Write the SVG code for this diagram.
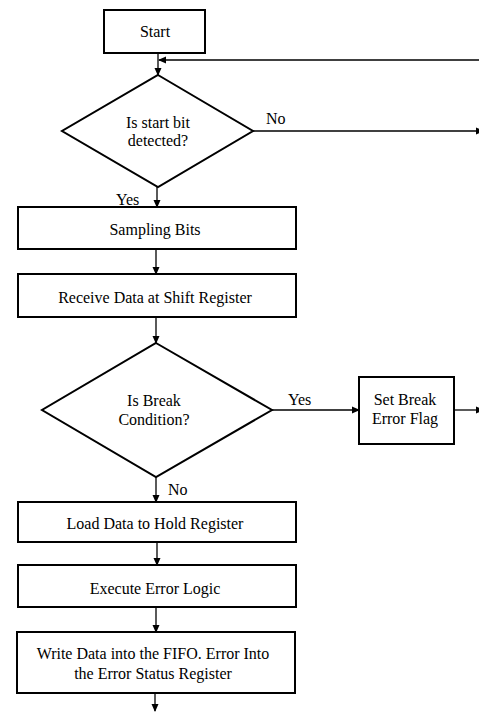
<svg xmlns="http://www.w3.org/2000/svg" width="479" height="713" viewBox="0 0 479 713">
<style>
.box{fill:#fff;stroke:#000;stroke-width:2}
.t{font-family:'Liberation Serif','Times New Roman','DejaVu Serif',serif;font-size:16px;fill:#000;text-anchor:middle}
.l{font-family:'Liberation Serif','Times New Roman','DejaVu Serif',serif;font-size:16px;fill:#000}
.c{fill:none;stroke:#000;stroke-width:1.3}
</style>
<defs>
<marker id="ah" markerWidth="8" markerHeight="8" refX="7" refY="4" orient="auto" markerUnits="userSpaceOnUse">
<path d="M0,0.5 L8,4 L0,7.5 Z" fill="#000"/>
</marker>
</defs>
<rect width="479" height="713" fill="#fff"/>
<g id="connectors">
<line class="c" x1="158" y1="53" x2="158" y2="75" marker-end="url(#ah)"/>
<line class="c" x1="479" y1="60" x2="159" y2="60" marker-end="url(#ah)"/>
<line class="c" x1="253" y1="131" x2="483" y2="131" marker-end="url(#ah)"/>
<line class="c" x1="157" y1="187" x2="157" y2="207" marker-end="url(#ah)"/>
<line class="c" x1="156" y1="249" x2="156" y2="274" marker-end="url(#ah)"/>
<line class="c" x1="156" y1="317" x2="156" y2="343" marker-end="url(#ah)"/>
<line class="c" x1="272" y1="410" x2="359" y2="410" marker-end="url(#ah)"/>
<line class="c" x1="454" y1="410" x2="483" y2="410" marker-end="url(#ah)"/>
<line class="c" x1="156" y1="477" x2="156" y2="502" marker-end="url(#ah)"/>
<line class="c" x1="157" y1="542" x2="157" y2="565" marker-end="url(#ah)"/>
<line class="c" x1="156" y1="607" x2="156" y2="632" marker-end="url(#ah)"/>
<line class="c" x1="155" y1="693" x2="155" y2="711" marker-end="url(#ah)"/>
<text class="l" x="266" y="124">No</text>
<text class="l" x="116" y="205">Yes</text>
<text class="l" x="288" y="405">Yes</text>
<text class="l" x="168" y="495">No</text>
</g>
<g id="start">
<rect class="box" x="104" y="10" width="101" height="43"/>
<text class="t" x="155" y="37">Start</text>
</g>
<g id="start-bit">
<polygon class="box" points="158,75 253,131 158,187 62,131"/>
<text class="t" x="158" y="128">Is start bit</text>
<text class="t" x="158" y="146">detected?</text>
</g>
<g id="sampling">
<rect class="box" x="18" y="207" width="278" height="42"/>
<text class="t" x="155" y="235">Sampling Bits</text>
</g>
<g id="receive">
<rect class="box" x="18" y="274" width="278" height="43"/>
<text class="t" x="155" y="303">Receive Data at Shift Register</text>
</g>
<g id="break">
<polygon class="box" points="156,343 272,410 156,477 42,410"/>
<text class="t" x="154" y="406">Is Break</text>
<text class="t" x="154" y="425">Condition?</text>
</g>
<g id="set-break">
<rect class="box" x="359" y="377" width="95" height="67"/>
<text class="t" x="405" y="405">Set Break</text>
<text class="t" x="405" y="424">Error Flag</text>
</g>
<g id="load">
<rect class="box" x="18" y="502" width="278" height="40"/>
<text class="t" x="155" y="529">Load Data to Hold Register</text>
</g>
<g id="execute">
<rect class="box" x="18" y="565" width="278" height="42"/>
<text class="t" x="155" y="594">Execute Error Logic</text>
</g>
<g id="write">
<rect class="box" x="17" y="632" width="278" height="61"/>
<text class="t" x="153" y="659">Write Data into the FIFO. Error Into</text>
<text class="t" x="153" y="679">the Error Status Register</text>
</g>
</svg>
